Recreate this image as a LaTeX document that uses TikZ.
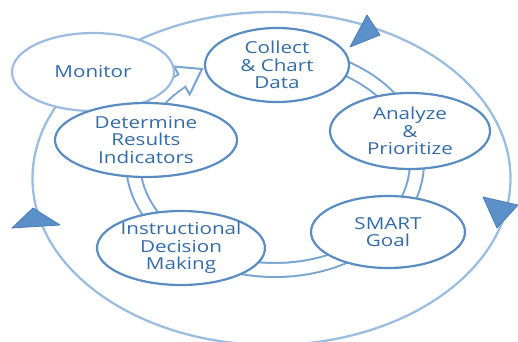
\documentclass[tikz,border=0pt]{standalone}
\usepackage{fontspec}
\setmainfont{Open Sans}[FakeStretch=1.25]
\usetikzlibrary{shapes.geometric}

\definecolor{outerblue}{HTML}{9BBDE0}
\definecolor{bandblue}{HTML}{78A4D1}
\definecolor{edgeblue}{HTML}{5A8CC2}
\definecolor{softedge}{HTML}{9DBBE0}
\definecolor{txtblue}{HTML}{346CA8}
\definecolor{headfill}{HTML}{5C90C8}
\definecolor{headedge}{HTML}{4A7DB5}

\tikzset{
  bubble/.style={ellipse, draw=edgeblue, fill=white, line width=2.2pt, inner sep=0pt},
  lbl/.style={text=txtblue, align=center, font=\fontsize{16.5}{17.5}\selectfont},
  headtri/.style={fill=headfill, draw=headedge, line width=0.8pt, line join=round},
}

% inner cycle band: centre (275,179), radii 142 x 108
\newcommand\bandarc[2]{(275,179) ++(#1:142 and 108) arc[start angle=#1, end angle=#2, x radius=142, y radius=108]}

\begin{document}
\begin{tikzpicture}[x=1pt, y=1pt]
\useasboundingbox (0,0) rectangle (518,341);

% outer ring (its lowest part runs below the page edge)
\draw[outerblue, line width=2.3pt] (271.5,162.5) ellipse[x radius=239, y radius=166.5];

% inner double-line band with hollow arrowhead
\draw[bandblue, line width=16pt] \bandarc{90}{-229};
\draw[white, line width=12pt] \bandarc{90}{-229};
\coordinate (w1) at (174.1,274.5);
\coordinate (w2) at (189.6,246.5);
\coordinate (tp) at (202,272);
\filldraw[draw=bandblue, fill=white, line width=2pt, line join=miter] (w1) -- (tp) -- (w2) -- cycle;
\draw[white, line width=12pt] \bandarc{137}{130};

% stages
\node[bubble, draw=softedge, minimum width=162pt, minimum height=78pt] (monitor) at (93,269) {};
\node[bubble, minimum width=144pt, minimum height=74pt] (collect) at (277,276) {};
\node[bubble, minimum width=160pt, minimum height=76pt] (analyze) at (410,210) {};
\node[bubble, minimum width=154pt, minimum height=72pt] (smart) at (388,109) {};
\node[bubble, minimum width=168pt, minimum height=74pt] (instr) at (181,93) {};
\node[bubble, minimum width=182pt, minimum height=74pt] (determine) at (146,201) {};

\node[lbl] (monitor-t) at (monitor) {Monitor};
\node[lbl] (collect-t) at (collect) {Collect\\\& Chart\\Data};
\node[lbl] (analyze-t) at (analyze) {Analyze\\\&\\Prioritize};
\node[lbl] (smart-t) at (smart) {SMART\\Goal};
\node[lbl] (instr-t) at (instr) {Instructional\\Decision\\Making};
\node[lbl] (determine-t) at (determine) {Determine\\Results\\Indicators};

% arrowheads on the outer ring
\filldraw[headtri] (367,326) -- (380,306) -- (350,294) -- cycle;
\filldraw[headtri] (33,133) -- (60,116) -- (12,113) -- cycle;
\filldraw[headtri] (483,144) -- (518,136) -- (497,113) -- cycle;
\end{tikzpicture}
\end{document}
